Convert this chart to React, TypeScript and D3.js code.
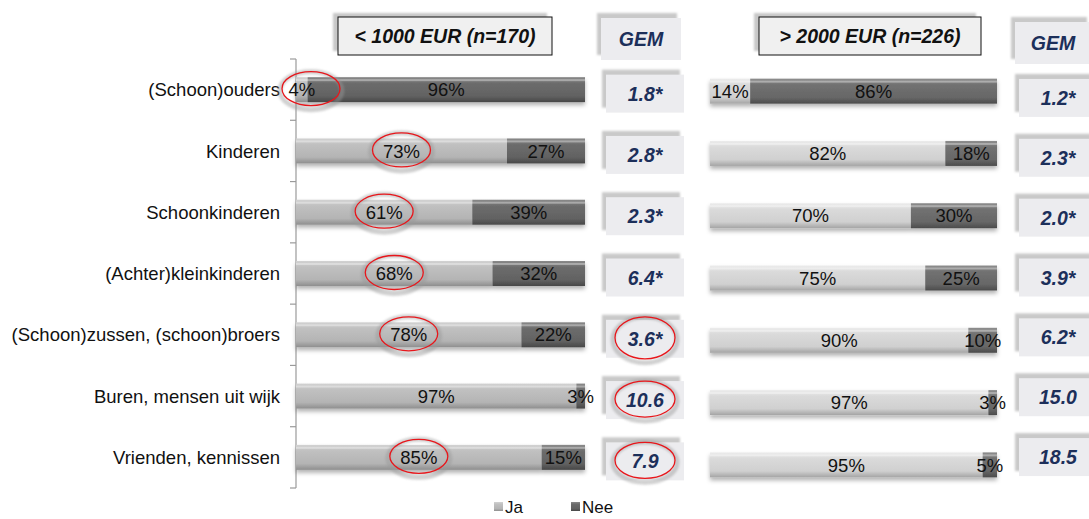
import React from "react";
import * as d3 from "d3";

const categories = [
  "(Schoon)ouders",
  "Kinderen",
  "Schoonkinderen",
  "(Achter)kleinkinderen",
  "(Schoon)zussen, (schoon)broers",
  "Buren, mensen uit wijk",
  "Vrienden, kennissen",
];
const lowJa = [4, 73, 61, 68, 78, 97, 85];
const lowNee = [96, 27, 39, 32, 22, 3, 15];
const lowGem = ["1.8*", "2.8*", "2.3*", "6.4*", "3.6*", "10.6", "7.9"];
const lowJaCircled = [true, true, true, true, true, false, true];
const lowGemCircled = [false, false, false, false, true, true, true];
const highJa = [14, 82, 70, 75, 90, 97, 95];
const highNee = [86, 18, 30, 25, 10, 3, 5];
const highGem = ["1.2*", "2.3*", "2.0*", "3.9*", "6.2*", "15.0", "18.5"];
const titles = ["< 1000 EUR (n=170)", "> 2000 EUR (n=226)"];
const legendLabels = ["Ja", "Nee"];

const FONT = "'Liberation Sans', Arial, Helvetica, sans-serif";
const NAVY = "#1c2f5a";
const FS = 18.5;

export default function App() {
  const W = 1089, H = 519;
  const yL = d3.scaleBand().domain(categories).range([59, 488]);
  const yR = d3.scaleBand().domain(categories).range([60, 496]);
  const yGL = d3.scaleBand().domain(categories).range([63, 492]);
  const yGR = d3.scaleBand().domain(categories).range([68, 487]);
  const xL = d3.scaleLinear().domain([0, 100]).range([296, 585]);
  const xR = d3.scaleLinear().domain([0, 100]).range([710, 997]);
  const barH = 25;

  const bars = (
    ja: number[], nee: number[], x: d3.ScaleLinear<number, number>,
    y: d3.ScaleBand<string>, jaGrad: string, neeGrad: string, key: string
  ) =>
    categories.map((c, i) => {
      const cy = (y(c) as number) + y.bandwidth() / 2;
      const x0 = x(0), x1 = x(ja[i]), x2 = x(ja[i] + nee[i]);
      return (
        <g key={key + i}>
          <g filter="url(#barShadow)">
            <rect x={x0} y={cy - barH / 2} width={x1 - x0} height={barH} fill={`url(#${jaGrad})`} />
            <rect x={x1} y={cy - barH / 2} width={x2 - x1} height={barH} fill={`url(#${neeGrad})`} />
          </g>
          <rect x={x0} y={cy - barH / 2 + 2} width={x2 - x0} height={2} fill="#fff" opacity={0.35} />
          <text x={(x0 + x1) / 2} y={cy} dy="0.36em" textAnchor="middle" fontSize={FS} fill="#111">{ja[i]}%</text>
          <text x={(x1 + x2) / 2} y={cy} dy="0.36em" textAnchor="middle" fontSize={FS} fill="#111">{nee[i]}%</text>
        </g>
      );
    });

  const gemBox = (cx: number, cy: number, label: string, k: string, w = 78, h = 38) => (
    <g key={k}>
      <rect x={cx - w / 2 - 4} y={cy - h / 2 - 5} width={w} height={h} fill="#c9c9c9" filter="url(#soft)" />
      <rect x={cx - w / 2} y={cy - h / 2} width={w} height={h} fill="#ececef" />
      <text x={cx} y={cy} dy="0.36em" textAnchor="middle" fontSize={19.5} fontWeight="bold" fontStyle="italic" fill={NAVY}>{label}</text>
    </g>
  );

  const titleBox = (x0: number, x1: number, label: string, k: string) => (
    <g key={k}>
      <rect x={x0 - 5} y={13} width={x1 - x0} height={38} fill="#c8c8c8" filter="url(#soft)" />
      <rect x={x0} y={17} width={x1 - x0} height={38} fill="#f0f0f0" stroke="#111" strokeWidth={1} />
      <text x={(x0 + x1) / 2} y={36} dy="0.36em" textAnchor="middle" fontSize={19.5} fontWeight="bold" fontStyle="italic" fill="#111">{label}</text>
    </g>
  );

  const ellipse = (cx: number, cy: number, rx: number, ry: number, k: string) => (
    <g key={k}>
      <ellipse cx={cx} cy={cy + 2} rx={rx + 2} ry={ry + 2} fill="none" stroke="#999" strokeWidth={5} opacity={0.45} filter="url(#soft)" />
      <ellipse cx={cx} cy={cy} rx={rx} ry={ry} fill="none" stroke="#e8161b" strokeWidth={1.3} />
    </g>
  );

  return (
    <svg width={W} height={H} style={{ position: "absolute", left: 0, top: 0, fontFamily: FONT }}>
      <defs>
        <linearGradient id="jaL" x1="0" y1="0" x2="0" y2="1">
          <stop offset="0" stopColor="#d2d2d2" />
          <stop offset="0.25" stopColor="#c0c0c0" />
          <stop offset="0.75" stopColor="#b4b4b4" />
          <stop offset="1" stopColor="#8e8e8e" />
        </linearGradient>
        <linearGradient id="neeL" x1="0" y1="0" x2="0" y2="1">
          <stop offset="0" stopColor="#8a8a8a" />
          <stop offset="0.25" stopColor="#6c6c6c" />
          <stop offset="0.75" stopColor="#626262" />
          <stop offset="1" stopColor="#474747" />
        </linearGradient>
        <linearGradient id="jaR" x1="0" y1="0" x2="0" y2="1">
          <stop offset="0" stopColor="#ececec" />
          <stop offset="0.25" stopColor="#dadada" />
          <stop offset="0.75" stopColor="#d0d0d0" />
          <stop offset="1" stopColor="#a4a4a4" />
        </linearGradient>
        <linearGradient id="neeR" x1="0" y1="0" x2="0" y2="1">
          <stop offset="0" stopColor="#8e8e8e" />
          <stop offset="0.25" stopColor="#717171" />
          <stop offset="0.75" stopColor="#676767" />
          <stop offset="1" stopColor="#4b4b4b" />
        </linearGradient>
        <filter id="barShadow" x="-5%" y="-40%" width="110%" height="200%">
          <feDropShadow dx="0" dy="3" stdDeviation="2" floodColor="#000" floodOpacity="0.3" />
        </filter>
        <filter id="soft" x="-20%" y="-30%" width="140%" height="160%">
          <feGaussianBlur stdDeviation="1" />
        </filter>
      </defs>
      <rect width={W} height={H} fill="#fff" />

      {/* category labels */}
      {categories.map((c) => (
        <text key={c} x={280} y={(yL(c) as number) + yL.bandwidth() / 2} dy="0.36em" textAnchor="end" fontSize={FS} fill="#111">{c}</text>
      ))}

      {/* axis */}
      <line x1={296} x2={296} y1={59} y2={488} stroke="#9a9a9a" strokeWidth={1.2} />
      {[...categories.map((c) => yL(c) as number), 488].map((t, i) => (
        <line key={"t" + i} x1={290} x2={296} y1={t} y2={t} stroke="#9a9a9a" strokeWidth={1.2} />
      ))}

      {titleBox(338, 552, titles[0], "tl")}
      {titleBox(759, 981, titles[1], "tr")}

      {bars(lowJa, lowNee, xL, yL, "jaL", "neeL", "l")}
      {bars(highJa, highNee, xR, yR, "jaR", "neeR", "r")}

      {gemBox(641, 39, "GEM", "gh1", 80, 42)}
      {gemBox(1053, 43, "GEM", "gh2", 76, 42)}
      {categories.map((c, i) =>
        gemBox(645, (yGL(c) as number) + yGL.bandwidth() / 2, lowGem[i], "gl" + i)
      )}
      {categories.map((c, i) =>
        gemBox(1058, (yGR(c) as number) + yGR.bandwidth() / 2, highGem[i], "gr" + i)
      )}

      {/* highlight ellipses */}
      {categories.map((c, i) =>
        lowJaCircled[i]
          ? ellipse(Math.max(xL(lowJa[i] / 2), 311), (yL(c) as number) + yL.bandwidth() / 2 - 1, 29, 17, "ej" + i)
          : null
      )}
      {categories.map((c, i) =>
        lowGemCircled[i]
          ? ellipse(645, (yGL(c) as number) + yGL.bandwidth() / 2 - 1, 30, i === 4 ? 21 : 18, "eg" + i)
          : null
      )}

      {/* legend */}
      {legendLabels.map((l, i) => {
        const x = i === 0 ? 494 : 571;
        return (
          <g key={l}>
            <rect x={x} y={502} width={9} height={9} fill={i === 0 ? "url(#jaL)" : "url(#neeL)"} />
            <text x={x + 11} y={513} fontSize={17} fill="#111">{l}</text>
          </g>
        );
      })}
    </svg>
  );
}
